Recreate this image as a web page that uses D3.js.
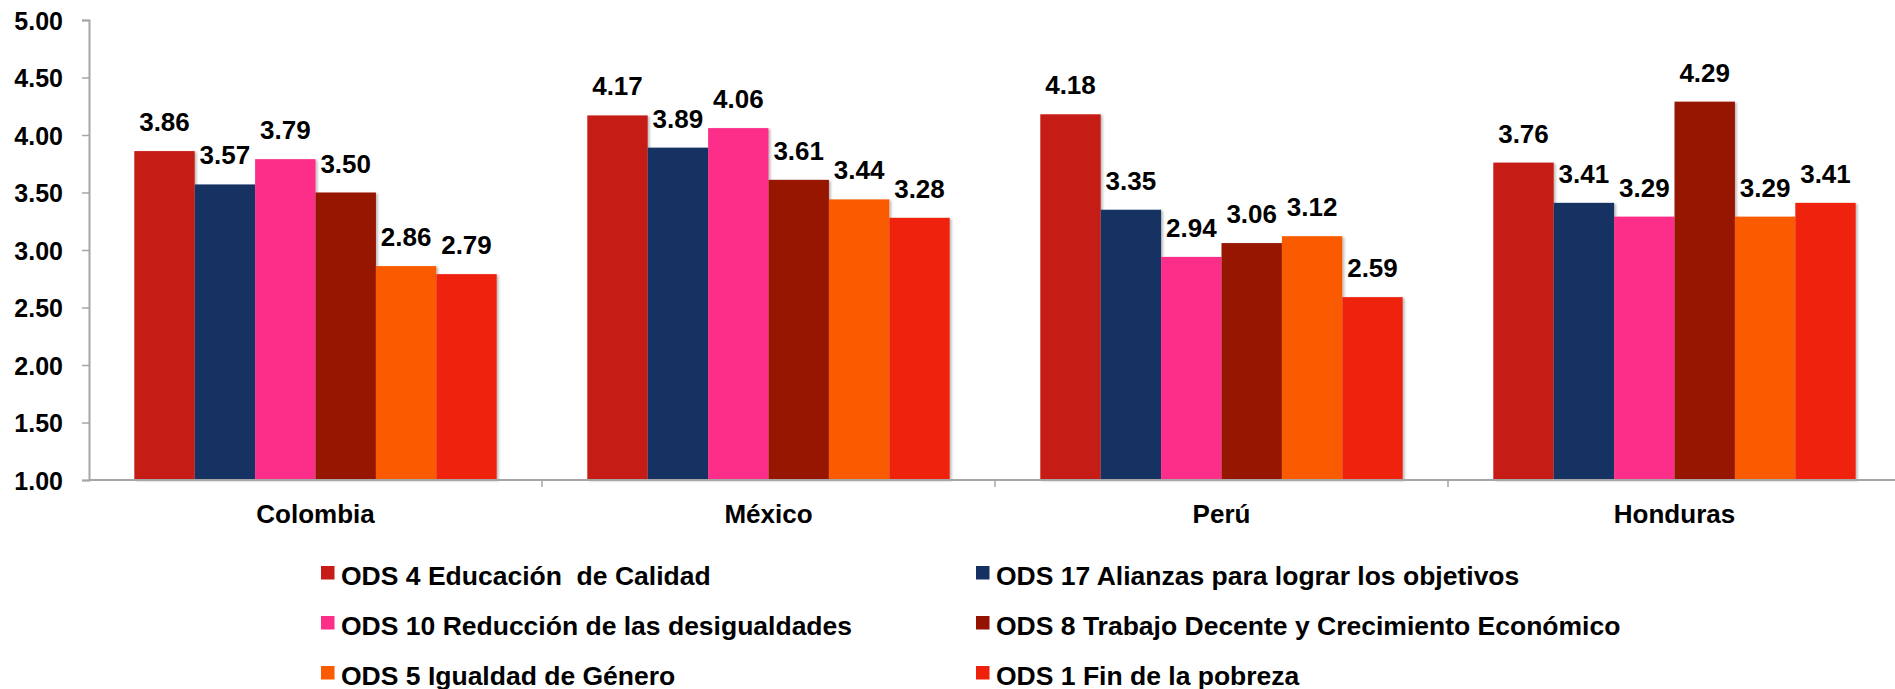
<!DOCTYPE html>
<html>
<head>
<meta charset="UTF-8">
<title>ODS por pais</title>
<script src="https://cdn.jsdelivr.net/npm/d3@7"></script>
<style>
  body { margin: 0; background: #fff; }
  text { font-family: "Liberation Sans", Arial, sans-serif; font-weight: bold; fill: #000; }
</style>
</head>
<body>
<div id="chart"></div>
<script>

// data
var paises = ["Colombia", "México", "Perú", "Honduras"]
var series = ["ODS 4 Educación  de Calidad", "ODS 17 Alianzas para lograr los objetivos",
              "ODS 10 Reducción de las desigualdades", "ODS 8 Trabajo Decente y Crecimiento Económico",
              "ODS 5 Igualdad de Género", "ODS 1 Fin de la pobreza"]
var colores = ["#c61b16", "#173064", "#fc2e8a", "#961200", "#fa5a00", "#ee220c"]

var ods4  = [3.86, 4.17, 4.18, 3.76]
var ods17 = [3.57, 3.89, 3.35, 3.41]
var ods10 = [3.79, 4.06, 2.94, 3.29]
var ods8  = [3.50, 3.61, 3.06, 4.29]
var ods5  = [2.86, 3.44, 3.12, 3.29]
var ods1  = [2.79, 3.28, 2.59, 3.41]
var valores = [ods4, ods17, ods10, ods8, ods5, ods1]

var yticks = [1, 1.5, 2, 2.5, 3, 3.5, 4, 4.5, 5]

// layout
var W = 1895, H = 689
var x0 = 89, x1 = 1901
var yTop = 20, yBot = 480

var svg = d3.select("#chart").append("svg")
  .attr("width", W).attr("height", H)

var defs = svg.append("defs")
var f = defs.append("filter").attr("id", "sombra")
  .attr("x", "-5%").attr("y", "-5%").attr("width", "120%").attr("height", "120%")
f.append("feDropShadow").attr("dx", 2).attr("dy", 1).attr("stdDeviation", 1.2)
  .attr("flood-color", "#000").attr("flood-opacity", 0.25)

var x = d3.scaleBand().domain(paises).range([x0, x1])
  .paddingInner(0.2).paddingOuter(0.1)
var xs = d3.scaleBand().domain(d3.range(series.length)).range([0, x.bandwidth()])
var y = d3.scaleLinear().domain([1, 5]).range([yBot, yTop])

// y axis
var yAxis = svg.append("g").attr("transform", "translate(" + x0 + ",0)")
  .call(d3.axisLeft(y).tickValues(yticks).tickFormat(d3.format(".2f")).tickSize(7).tickPadding(19))
yAxis.select(".domain").attr("stroke", "#a6a6a6").attr("stroke-width", 2)
yAxis.selectAll(".tick line").attr("stroke", "#a6a6a6").attr("stroke-width", 1.5)
yAxis.selectAll(".tick text").style("font-size", "25px").attr("dy", "0.36em")

// bars
var grupos = svg.selectAll(".pais")
  .data(paises).enter()
  .append("g")
  .attr("class", "pais")
  .attr("transform", function(d) { return "translate(" + x(d) + ",0)"; })

grupos.each(function(p, pi) {
  var g = d3.select(this)
  var filas = valores.map(function(v, si) { return { s: si, v: v[pi] }; })
  g.selectAll("rect").data(filas).enter()
    .append("rect")
    .attr("x", function(d) { return xs(d.s); })
    .attr("width", xs.bandwidth())
    .attr("y", function(d) { return y(d.v); })
    .attr("height", function(d) { return y(1) - y(d.v); })
    .attr("fill", function(d) { return colores[d.s]; })
    .attr("filter", "url(#sombra)")
  g.selectAll("text.val").data(filas).enter()
    .append("text").attr("class", "val")
    .attr("x", function(d) { return xs(d.s) + xs.bandwidth() / 2; })
    .attr("y", function(d) { return y(d.v) - 20; })
    .attr("text-anchor", "middle")
    .style("font-size", "26px")
    .text(function(d) { return d.v.toFixed(2); })
})

// x axis
var xAxis = svg.append("g").attr("transform", "translate(0," + yBot + ")")
xAxis.append("line").attr("x1", x0).attr("x2", W).attr("y1", 0).attr("y2", 0)
  .attr("stroke", "#a6a6a6").attr("stroke-width", 2)
xAxis.selectAll(".sep").data(paises.slice(1)).enter()
  .append("line")
  .attr("x1", function(d) { return x(d) - x.step() * x.paddingInner() / 2; })
  .attr("x2", function(d) { return x(d) - x.step() * x.paddingInner() / 2; })
  .attr("y1", 0).attr("y2", 7)
  .attr("stroke", "#a6a6a6").attr("stroke-width", 1.5)
xAxis.selectAll(".cat").data(paises).enter()
  .append("text")
  .attr("x", function(d) { return x(d) + x.bandwidth() / 2; })
  .attr("y", 43)
  .attr("text-anchor", "middle")
  .style("font-size", "26px")
  .text(function(d) { return d; })

// legend
var legX = [321, 976]
var leg = svg.selectAll(".leg").data(series).enter()
  .append("g").attr("class", "leg")
  .attr("transform", function(d, i) {
    return "translate(" + legX[i % 2] + "," + (566 + Math.floor(i / 2) * 50) + ")";
  })
leg.append("rect").attr("width", 13.5).attr("height", 13.5)
  .attr("fill", function(d, i) { return colores[i]; })
leg.append("text").attr("x", 20).attr("y", 19)
  .style("font-size", "26.5px").style("white-space", "pre")
  .attr("xml:space", "preserve")
  .text(function(d) { return d; })

</script>
</body>
</html>
